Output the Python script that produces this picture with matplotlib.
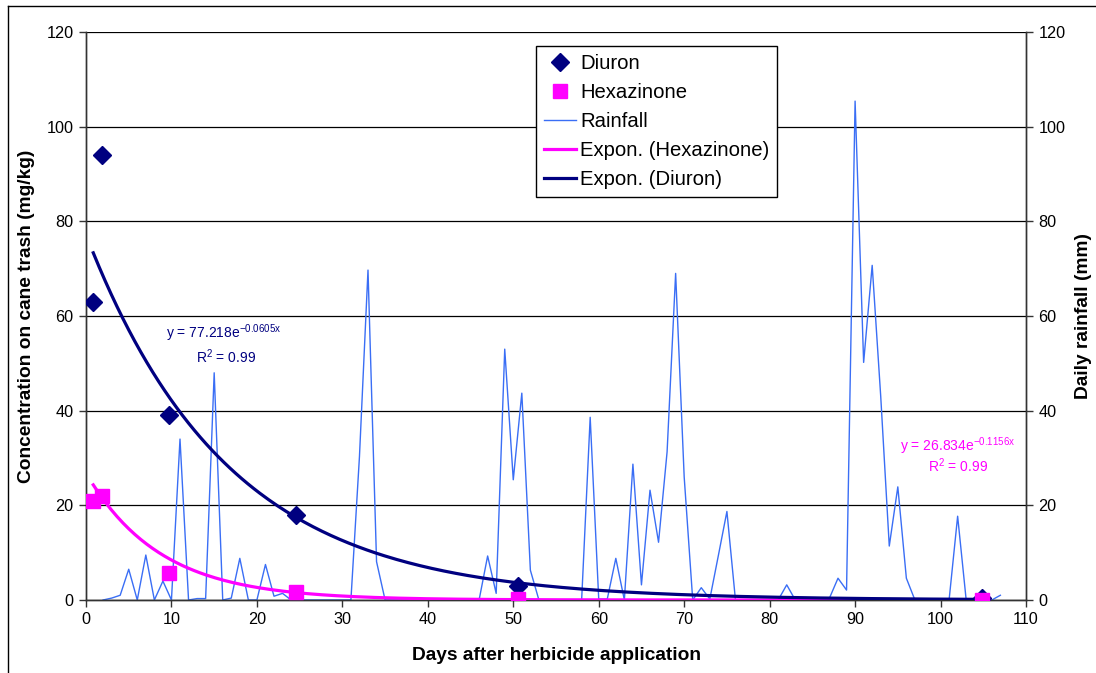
import numpy as np
import matplotlib
matplotlib.use("Agg")
import matplotlib.pyplot as plt
from matplotlib.lines import Line2D

plt.rcParams['font.family'] = ['Liberation Sans', 'DejaVu Sans']
plt.rcParams['mathtext.fontset'] = 'custom'
plt.rcParams['mathtext.rm'] = 'Liberation Sans'

# ---- data ----
sample_days = [0.85, 1.85, 9.7, 24.6, 50.6, 104.8]
diuron = [63, 94, 39, 18, 3, 0.5]
hexazinone = [21, 22, 5.7, 1.6, 0.3, 0.0]

rain_days = list(range(2, 108))
rainfall = [0, 0.4, 1.0, 6.5, 0, 9.5, 0, 4.0, 0, 34,          # 2-11
            0, 0.3, 0.3, 48, 0, 0.4, 8.8, 0, 0, 7.5,          # 12-21
            0.8, 1.4, 0, 0, 0, 0, 0, 0, 0, 0,                 # 22-31
            30.3, 69.7, 8.1, 0, 0, 0, 0, 0, 0, 0,             # 32-41
            0, 0, 0, 0, 0, 9.3, 1.4, 53, 25.4, 43.7,          # 42-51
            6.3, 0, 0, 0, 0, 0, 0, 38.6, 0.2, 0.2,            # 52-61
            8.8, 0, 28.7, 3.2, 23.2, 12.2, 31.3, 69, 26, 0,   # 62-71
            2.6, 0.2, 9.4, 18.7, 0, 0, 0, 0, 0, 0,            # 72-81
            3.2, 0, 0, 0, 0, 0.4, 4.6, 2.1, 105.4, 50.2,      # 82-91
            70.7, 43, 11.4, 23.9, 4.6, 0, 0, 0, 0, 0,         # 92-101
            17.7, 0, 0, 0, 0, 1.0]                            # 102-107

diuron_fit = (77.218, -0.0605)
hexa_fit = (26.834, -0.1156)
fit_range = (0.85, 104.8)

x_ticks = list(range(0, 111, 10))
y_ticks = list(range(0, 121, 20))

# ---- figure ----
fig = plt.figure(figsize=(10.96, 6.73), dpi=100)
ax = fig.add_axes([86/1096, 1-600/673, 940/1096, 568/673])
ax2 = ax.twinx()

# rainfall axis at the back
ax.set_zorder(ax2.get_zorder() + 1)
ax.patch.set_visible(False)

navy = '#000080'
magenta = '#FF00FF'
rainc = '#3A6EF5'

ax2.plot(rain_days, rainfall, color=rainc, lw=1.0, zorder=2)
ax2.set_ylim(0, 120)
ax2.set_yticks(y_ticks)
ax2.grid(axis='y', color='black', lw=0.9, zorder=0)
ax2.set_axisbelow(True)

xf = np.linspace(fit_range[0], fit_range[1], 300)
ax.plot(xf, hexa_fit[0]*np.exp(hexa_fit[1]*xf), color=magenta, lw=2.3, zorder=3)
ax.plot(xf, diuron_fit[0]*np.exp(diuron_fit[1]*xf), color=navy, lw=2.3, zorder=3)
ax.plot(sample_days, diuron, ls='none', marker='D', ms=9.5, color=navy, zorder=5)
ax.plot(sample_days, hexazinone, ls='none', marker='s', ms=10.5, color=magenta, zorder=5)

ax.set_xlim(0, 110)
ax.set_ylim(0, 120)
ax.set_xticks(x_ticks)
ax.set_yticks(y_ticks)

for a in (ax, ax2):
    for s in a.spines.values():
        s.set_color('#333333')
        s.set_linewidth(1.0)
    a.spines['top'].set_visible(False)
    a.tick_params(direction='out', length=5, width=1, colors='#333333',
                  labelsize=11.7, labelcolor='black', pad=4)

ax.set_xlabel('Days after herbicide application', fontsize=13.8, fontweight='bold', labelpad=14)
ax.set_ylabel('Concentration on cane trash (mg/kg)', fontsize=13.8, fontweight='bold', labelpad=8)
ax2.set_ylabel('Daily rainfall (mm)', fontsize=13.8, fontweight='bold', labelpad=7)

# equations
ax.text(16.15, 56.4, r'y = 77.218e$^{\mathregular{-0.0605x}}$', color=navy, fontsize=10,
        ha='center', va='center', zorder=6)
ax.text(16.4, 51.5, r'R$^{\mathregular{2}}$ = 0.99', color=navy, fontsize=10,
        ha='center', va='center', zorder=6)
ax.text(102.0, 32.5, r'y = 26.834e$^{\mathregular{-0.1156x}}$', color=magenta, fontsize=10,
        ha='center', va='center', zorder=6)
ax.text(102.0, 28.3, r'R$^{\mathregular{2}}$ = 0.99', color=magenta, fontsize=10,
        ha='center', va='center', zorder=6)

handles = [
    Line2D([], [], ls='none', marker='D', ms=9, color=navy),
    Line2D([], [], ls='none', marker='s', ms=10, color=magenta),
    Line2D([], [], color=rainc, lw=1.0),
    Line2D([], [], color=magenta, lw=2.3),
    Line2D([], [], color=navy, lw=2.3),
]
labels = ['Diuron', 'Hexazinone', 'Rainfall', 'Expon. (Hexazinone)', 'Expon. (Diuron)']
leg = ax.legend(handles, labels, loc='upper left', bbox_to_anchor=(536/1096, 1-46/673),
                bbox_transform=fig.transFigure, borderaxespad=0, fontsize=14.6,
                fancybox=False, framealpha=1, edgecolor='black', handlelength=1.57,
                handletextpad=0.23, labelspacing=0.5, borderpad=0.38)
leg.get_frame().set_linewidth(1.0)
leg.set_zorder(10)

# outer chart border (left & top)
fig.add_artist(Line2D([8/1096, 8/1096], [0, 1-6/673], transform=fig.transFigure,
                      color='black', lw=1.0))
fig.add_artist(Line2D([8/1096, 1], [1-6/673, 1-6/673], transform=fig.transFigure,
                      color='black', lw=1.0))

fig.savefig('out.png', dpi=100, facecolor='white')
